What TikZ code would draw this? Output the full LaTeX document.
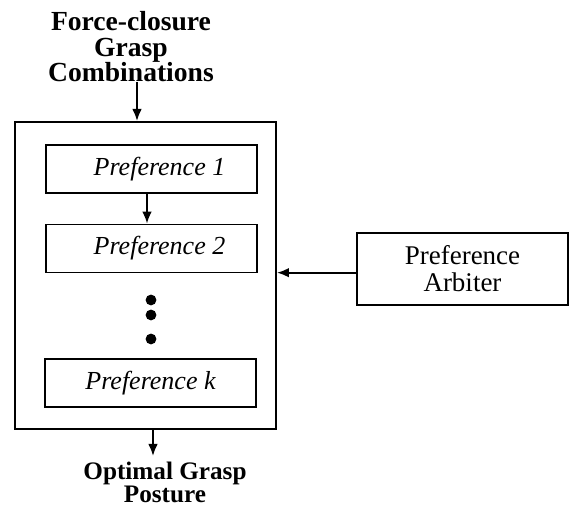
\documentclass[tikz,border=0pt]{standalone}
\usepackage{fontspec}
\setmainfont{Liberation Serif}
\usetikzlibrary{arrows.meta}
\begin{document}
\begin{tikzpicture}[x=0.5pt,y=0.5pt]
  \tikzstyle{every node}=[inner sep=0pt,align=center]
  \tikzstyle{prefbox}=[draw,line width=0.9pt,minimum width=105.5pt,minimum height=24pt,font=\fontsize{13}{15}\selectfont\itshape]
  \tikzstyle{flow}=[line width=0.9pt,-{Latex[length=6pt,width=4.8pt]}]
  \useasboundingbox (0,0) rectangle (570,507);
  % outer block and its preferences
  \node (outer) [draw,line width=1pt,minimum width=130.5pt,minimum height=153.5pt] at (145.5,231.5) {};
  \node (p1) [prefbox] at (151.5,338)   {\hspace*{8pt}Preference 1};
  \node (p2) [prefbox] at (151.5,258.5) {\hspace*{8pt}Preference 2};
  \node (pk) [prefbox] at (150.5,124)   {Preference k};
  \foreach \y in {207,192,168}
    \fill (151,\y) circle (2.7pt);
  % arbiter
  \node (arb) [draw,line width=0.9pt,minimum width=105.5pt,minimum height=36pt,
    font=\fontsize{13.5}{13.5}\selectfont] at (462.5,238) {Preference\\Arbiter};
  % input and output
  \node (in) [anchor=north,font=\fontsize{13.8}{12.8}\selectfont\bfseries] at (131,496)
    {Force-closure\\Grasp\\Combinations};
  \node (out) [anchor=north,font=\fontsize{12.6}{11.4}\selectfont\bfseries] at (165,45)
    {Optimal Grasp\\Posture};
  \draw [flow] ([xshift=3pt]in.south) -- ([xshift=3pt]in.south |- outer.north);
  \draw [flow] ([xshift=-2.25pt]p1.south) -- ([xshift=-2.25pt]p1.south |- p2.north);
  \draw [flow] ([yshift=-1.85pt]arb.west) -- ([yshift=-1.85pt]arb.west -| outer.east);
  \draw [flow,shorten >=3pt] ([xshift=3.75pt]outer.south) -- ([xshift=3.75pt]outer.south |- out.north);
\end{tikzpicture}
\end{document}
